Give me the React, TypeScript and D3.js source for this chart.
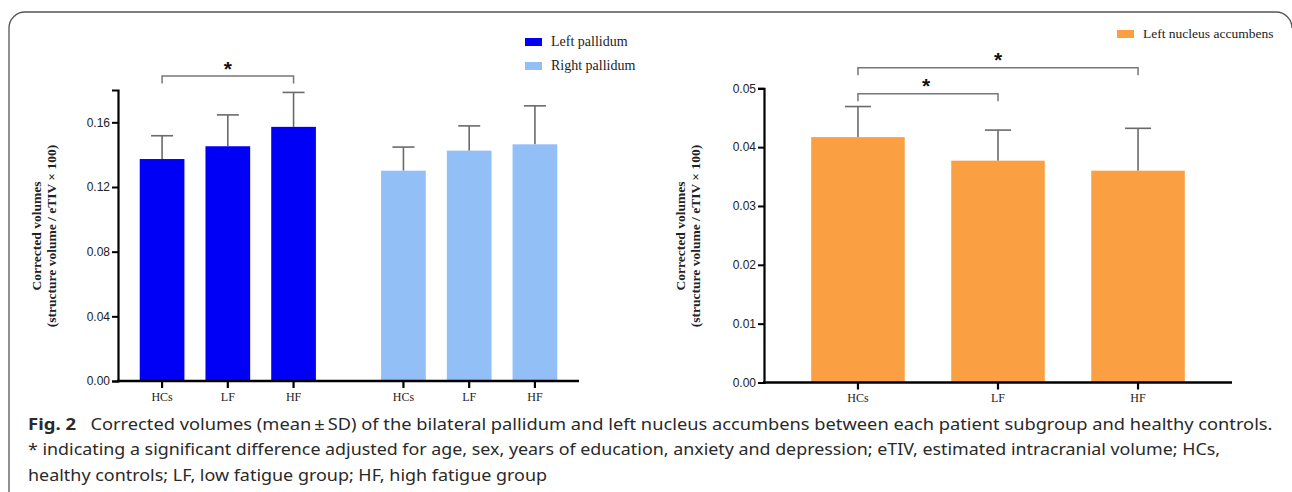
import { useRef, useEffect } from "react";
import { select, scaleBand, scaleLinear, axisLeft, format } from "d3";

// categories
const groups = ["HCs", "LF", "HF"];
const pallidumSides = ["Left pallidum", "Right pallidum"];

// means and SD
const leftPallidumMean = [0.1373, 0.1452, 0.1572];
const leftPallidumSD = [0.0144, 0.0194, 0.0213];
const rightPallidumMean = [0.1301, 0.1425, 0.1464];
const rightPallidumSD = [0.0146, 0.0153, 0.0238];
const naccMean = [0.0417, 0.0377, 0.036];
const naccSD = [0.0052, 0.0052, 0.0072];

// axis ticks
const pallidumTicks = [0, 0.04, 0.08, 0.12, 0.16];
const naccTicks = [0, 0.01, 0.02, 0.03, 0.04, 0.05];

// significance brackets
const pallidumBrackets = [["HCs", "HF"]];
const naccBrackets = [
  ["HCs", "LF"],
  ["HCs", "HF"],
];

const colors = {
  "Left pallidum": "#0000f6",
  "Right pallidum": "#93bff7",
  "Left nucleus accumbens": "#fba042",
};

const captionLines = [
  "Corrected volumes (mean\u2009\u00b1\u2009SD) of the bilateral pallidum and left nucleus accumbens between each patient subgroup and healthy controls.",
  "* indicating a significant difference adjusted for age, sex, years of education, anxiety and depression; eTIV, estimated intracranial volume; HCs,",
  "healthy controls; LF, low fatigue group; HF, high fatigue group",
];

const SERIF = "'Liberation Serif', 'Times New Roman', serif";
const SANS = "'Liberation Sans', Arial, sans-serif";

const App = () => {
  const svgRef = useRef(null);

  useEffect(() => {
    const svgEl = select(svgRef.current);
    svgEl.selectAll("*").remove();

    // frame round the figure
    svgEl
      .append("path")
      .attr("d", "M9,492 V28 A16,16 0 0 1 25,12 H1276 A16,16 0 0 1 1292,28")
      .attr("fill", "none")
      .attr("stroke", "#555")
      .attr("stroke-width", 1.3);

    const drawYAxis = (g, y, x0, ticks) => {
      const yAxis = axisLeft(y)
        .tickValues(ticks)
        .tickSize(6)
        .tickPadding(2)
        .tickFormat(format(".2f"));
      const yg = g.append("g").attr("transform", `translate(${x0},0)`).call(yAxis);
      yg.select(".domain").attr("stroke", "#000").attr("stroke-width", 2.2);
      yg.selectAll("line").attr("stroke", "#000").attr("stroke-width", 2);
      yg.selectAll("text")
        .attr("font-family", SANS)
        .attr("font-size", 12)
        .attr("fill", "#222");
    };

    const drawXAxis = (g, xs, y0, x0, x1) => {
      g.append("line")
        .attr("x1", x0 - 1)
        .attr("x2", x1)
        .attr("y1", y0)
        .attr("y2", y0)
        .attr("stroke", "#000")
        .attr("stroke-width", 2.4);
      xs.forEach(({ cx, label }) => {
        g.append("line")
          .attr("x1", cx)
          .attr("x2", cx)
          .attr("y1", y0)
          .attr("y2", y0 + 7)
          .attr("stroke", "#000")
          .attr("stroke-width", 2.2);
        g.append("text")
          .attr("x", cx)
          .attr("y", y0 + 19.5)
          .attr("text-anchor", "middle")
          .attr("font-family", SERIF)
          .attr("font-size", 12)
          .attr("fill", "#222")
          .text(label);
      });
    };

    const drawBars = (g, items, y, capW) => {
      items.forEach(({ x, w, mean, sd, color }) => {
        const cx = x + w / 2;
        g.append("line")
          .attr("x1", cx)
          .attr("x2", cx)
          .attr("y1", y(mean))
          .attr("y2", y(mean + sd))
          .attr("stroke", "#6a6a6a")
          .attr("stroke-width", 1.6);
        g.append("line")
          .attr("x1", cx - capW / 2)
          .attr("x2", cx + capW / 2)
          .attr("y1", y(mean + sd))
          .attr("y2", y(mean + sd))
          .attr("stroke", "#6a6a6a")
          .attr("stroke-width", 1.6);
        g.append("rect")
          .attr("x", x)
          .attr("y", y(mean))
          .attr("width", w)
          .attr("height", y(0) - y(mean))
          .attr("fill", color);
      });
    };

    const drawBracket = (g, xa, xb, yb, drop, starX) => {
      g.append("path")
        .attr("d", `M${xa},${yb + drop} V${yb} H${xb} V${yb + drop}`)
        .attr("fill", "none")
        .attr("stroke", "#777")
        .attr("stroke-width", 1.5);
      g.append("text")
        .attr("x", starX)
        .attr("y", yb - 0.5)
        .attr("text-anchor", "middle")
        .attr("font-family", SANS)
        .attr("font-weight", "bold")
        .attr("font-size", 21)
        .attr("fill", "#111")
        .text("*");
    };

    const drawYTitle = (g, x1, x2, cy) => {
      [
        ["Corrected volumes", x1],
        ["(structure volume / eTIV \u00d7 100)", x2],
      ].forEach(([t, x]) => {
        g.append("text")
          .attr("transform", `translate(${x},${cy}) rotate(-90)`)
          .attr("text-anchor", "middle")
          .attr("font-family", SERIF)
          .attr("font-weight", "bold")
          .attr("font-size", 13.5)
          .attr("fill", "#222")
          .text(t);
      });
    };

    const drawLegend = (g, label, x, y, fs) => {
      g.append("rect")
        .attr("x", x)
        .attr("y", y - 8)
        .attr("width", 17)
        .attr("height", 8)
        .attr("fill", colors[label]);
      g.append("text")
        .attr("x", x + 26)
        .attr("y", y)
        .attr("font-family", SERIF)
        .attr("font-size", fs)
        .attr("fill", "#222")
        .text(label);
    };

    // ---------- pallidum panel ----------
    const left = svgEl.append("g");
    const yP = scaleLinear().domain([0, 0.18]).range([381, 90]);
    const outer = scaleBand()
      .domain(pallidumSides)
      .range([118, 579])
      .paddingInner(0.27)
      .paddingOuter(0.09);
    const inner = scaleBand()
      .domain(groups)
      .range([0, outer.bandwidth()])
      .paddingInner(0.32)
      .paddingOuter(0);

    const pallidumItems = [];
    const pallidumX = [];
    pallidumSides.forEach((side) => {
      const means = side === "Left pallidum" ? leftPallidumMean : rightPallidumMean;
      const sds = side === "Left pallidum" ? leftPallidumSD : rightPallidumSD;
      groups.forEach((gName, i) => {
        const x = outer(side) + inner(gName);
        pallidumItems.push({
          x,
          w: inner.bandwidth(),
          mean: means[i],
          sd: sds[i],
          color: colors[side],
        });
        pallidumX.push({ cx: x + inner.bandwidth() / 2, label: gName });
      });
    });
    drawBars(left, pallidumItems, yP, 22);
    drawXAxis(left, pallidumX, yP(0), 118, 579);
    drawYAxis(left, yP, 118, pallidumTicks);
    drawYTitle(left, 40.5, 55.5, 236);

    pallidumBrackets.forEach(([a, b]) => {
      const xa = outer("Left pallidum") + inner(a) + inner.bandwidth() / 2;
      const xb = outer("Left pallidum") + inner(b) + inner.bandwidth() / 2;
      drawBracket(left, xa, xb, 76, 7.5, (xa + xb) / 2);
    });

    drawLegend(left, "Left pallidum", 525, 46, 14);
    drawLegend(left, "Right pallidum", 525, 70, 14);

    // ---------- nucleus accumbens panel ----------
    const right = svgEl.append("g");
    const yN = scaleLinear().domain([0, 0.05]).range([382.5, 88.3]);
    const xN = scaleBand()
      .domain(groups)
      .range([764, 1232])
      .paddingInner(0.332)
      .paddingOuter(0.337);

    const naccItems = groups.map((gName, i) => ({
      x: xN(gName),
      w: xN.bandwidth(),
      mean: naccMean[i],
      sd: naccSD[i],
      color: colors["Left nucleus accumbens"],
    }));
    drawBars(right, naccItems, yN, 26);
    drawXAxis(
      right,
      groups.map((gName) => ({ cx: xN(gName) + xN.bandwidth() / 2, label: gName })),
      yN(0),
      764,
      1232
    );
    drawYAxis(right, yN, 764, naccTicks);
    drawYTitle(right, 685, 700, 236);

    const bracketLevels = [93.7, 67.7];
    naccBrackets.forEach(([a, b], i) => {
      const xa = xN(a) + xN.bandwidth() / 2;
      const xb = xN(b) + xN.bandwidth() / 2;
      const starX = i === 0 ? (xa + xb) / 2 - 2 : (xa + xb) / 2;
      drawBracket(right, xa, xb, bracketLevels[i], 7.5, starX);
    });

    drawLegend(right, "Left nucleus accumbens", 1117, 38, 13.5);

    // ---------- caption ----------
    const cap = svgEl
      .append("g")
      .attr("fill", "#2a2a2a")
      .attr("font-family", "'Noto Sans', 'Open Sans', sans-serif");
    cap
      .append("text")
      .attr("x", 28)
      .attr("y", 429.5)
      .attr("font-size", 15.5)
      .attr("font-weight", "bold")
      .attr("textLength", 48)
      .attr("lengthAdjust", "spacingAndGlyphs")
      .text("Fig. 2");
    const lineSpecs = [
      { x: 90.5, y: 429.5, len: 1182 },
      { x: 28, y: 455, len: 1192 },
      { x: 28, y: 480.5, len: 519 },
    ];
    captionLines.forEach((t, i) => {
      cap
        .append("text")
        .attr("x", lineSpecs[i].x)
        .attr("y", lineSpecs[i].y)
        .attr("font-size", 15.5)
        .attr("textLength", lineSpecs[i].len)
        .attr("lengthAdjust", "spacingAndGlyphs")
        .text(t);
    });
  }, []);

  return (
    <div style={{ position: "absolute", left: 0, top: 0, background: "#fff" }}>
      <svg ref={svgRef} width={1292} height={492} style={{ display: "block" }}></svg>
    </div>
  );
};

export default App;
